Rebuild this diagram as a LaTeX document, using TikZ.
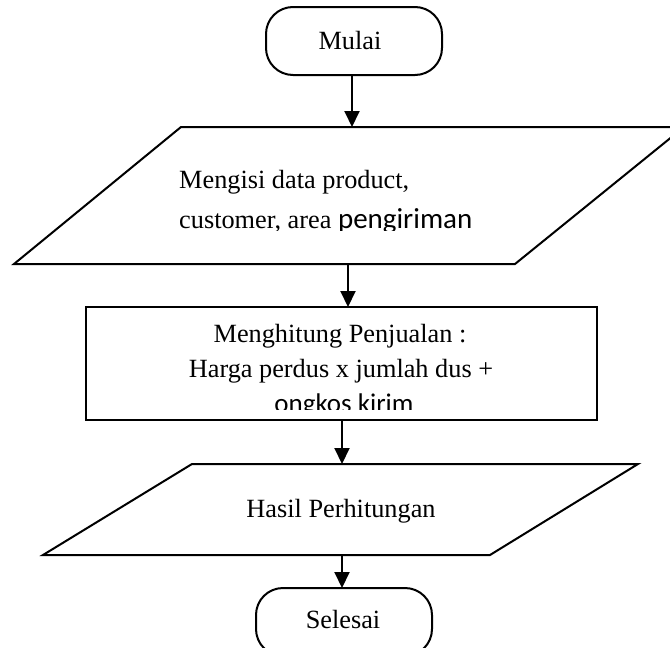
\documentclass[tikz,border=0pt]{standalone}
\usepackage{fontspec}
\setmainfont{Liberation Serif}
\newfontfamily\calib{Carlito}
\usetikzlibrary{arrows.meta}
\tikzset{
  shapeline/.style={draw=black, line width=2pt, line join=miter},
  terminal/.style={shapeline, rounded corners=27pt},
  arr/.style={line width=2pt, -{Triangle[length=16pt,width=15pt]}},
  label/.style={inner sep=0pt, font=\fontsize{26.3}{30}\selectfont},
}
\begin{document}
\begin{tikzpicture}[x=1pt,y=-1pt]
\path[use as bounding box] (0,0) rectangle (670,648);
\clip (0,0) rectangle (670,648);

% start terminal
\draw[terminal] (266,7) rectangle (442,75);
\node[label, anchor=base] (mulai) at (350,49) {Mulai};

% input parallelogram
\draw[shapeline] (181,127) -- (684,127) -- (515,264) -- (14,264) -- cycle;
\node[label, anchor=base west] (in1) at (179,188) {Mengisi data product,};
\begin{scope}
  \clip (0,0) rectangle (670,230);
  \node[label, anchor=base west] (in2) at (179,228)
    {customer, area {\calib\fontsize{29}{30}\selectfont pengiriman}};
\end{scope}

% process box
\draw[shapeline] (86,307) rectangle (597,420);
\node[label, anchor=base] (p1) at (340,342) {Menghitung Penjualan :};
\node[label, anchor=base] (p2) at (341,377) {Harga perdus x jumlah dus +};
\begin{scope}
  \clip (0,0) rectangle (670,409);
  \node[label, anchor=base] (p3) at (344,412)
    {\calib\fontsize{27}{30}\selectfont ongkos kirim};
\end{scope}

% output parallelogram
\draw[shapeline] (192,464) -- (638,464) -- (490,555) -- (43,555) -- cycle;
\node[label, anchor=base] (out) at (341,517) {Hasil Perhitungan};

% end terminal
\draw[terminal] (256,588) rectangle (432,656);
\node[label, anchor=base] (selesai) at (343,628) {Selesai};

% connector end points on the shape edges
\coordinate (a1s) at (352,75);
\coordinate (a1e) at (352,127);
\coordinate (a2s) at (348,264);
\coordinate (a2e) at (348,307);
\coordinate (a3s) at (342,420);
\coordinate (a3e) at (342,464);
\coordinate (a4s) at (342,555);
\coordinate (a4e) at (342,588);

\draw[arr] (a1s) -- (a1e);
\draw[arr] (a2s) -- (a2e);
\draw[arr] (a3s) -- (a3e);
\draw[arr] (a4s) -- (a4e);
\end{tikzpicture}
\end{document}
